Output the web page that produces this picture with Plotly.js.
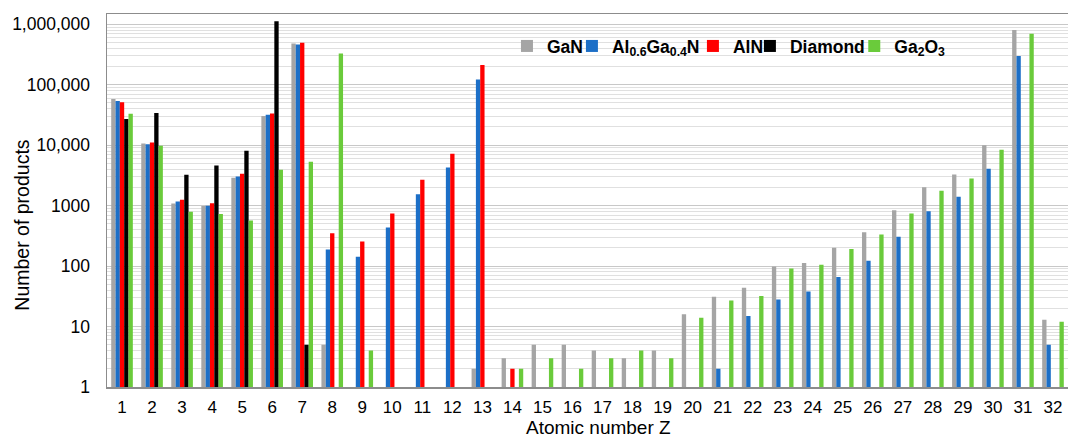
<!DOCTYPE html>
<html>
<head>
<meta charset="utf-8">
<script src="https://cdn.plot.ly/plotly-3.0.1.min.js"></script>
<style>
  html, body { margin: 0; padding: 0; background: #fff; }
  #chart { width: 1068px; height: 441px; }
</style>
</head>
<body>
<div id="chart"></div>
<script>
// Atomic number Z categories
const atomicNumbers = [1,2,3,4,5,6,7,8,9,10,11,12,13,14,15,16,17,18,19,20,21,22,23,24,25,26,27,28,29,30,31,32];

// Number of products per material (null = no bar)
const ganValues = [58000, 10700, 1080, 990, 2890, 30500, 480000, 5, null, null, null, null, 2, 3, 5, 5, 4, 3, 4, 16, 31, 44, 98, 113, 202, 362, 840, 2020, 3280, 10000, 801000, 13];
const alganValues = [54000, 10400, 1170, 1000, 3030, 32000, 464000, 189, 143, 433, 1550, 4290, 122000, null, null, null, null, null, null, null, 2, 15, 28, 38, 66, 123, 307, 808, 1400, 4080, 300000, 5];
const alnValues = [51500, 11100, 1250, 1100, 3370, 33300, 493000, 349, 254, 740, 2680, 7230, 213000, 2, null, null, null, null, null, null, null, null, null, null, null, null, null, null, null, null, null, null];
const diamondValues = [27000, 34000, 3240, 4620, 8100, 1120000, 5, null, null, null, null, null, null, null, null, null, null, null, null, null, null, null, null, null, null, null, null, null, null, null, null, null];
const ga2o3Values = [33000, 9800, 790, 730, 566, 3920, 5330, 329000, 4, null, null, null, null, 2, 3, 2, 3, 4, 3, 14, 27, 32, 91, 105, 192, 332, 740, 1760, 2820, 8400, 697000, 12];

// Y axis tick labels
const yTickVals = [1, 10, 100, 1000, 10000, 100000, 1000000];
const yTickText = ["1", "10", "100", "1000", "10,000", "100,000", "1,000,000"];

// Axis titles
const xTitle = 'Atomic number Z';
const yTitle = 'Number of products';

const seriesNames = ["GaN", "Al<sub>0.6</sub>Ga<sub>0.4</sub>N", "AlN", "Diamond", "Ga<sub>2</sub>O<sub>3</sub>"];
const seriesColors = ["#a5a5a5", "#1c6fc7", "#ff0000", "#000000", "#6acb3b"];
const seriesData = [ganValues, alganValues, alnValues, diamondValues, ga2o3Values];
const legendIds = ["legend", "legend2", "legend3", "legend4", "legend5"];

const traces = seriesData.map((vals, i) => ({
  type: 'bar',
  x: atomicNumbers,
  y: vals,
  name: '<b>' + seriesNames[i] + '</b>',
  marker: { color: seriesColors[i], line: { width: 0 } },
  legend: legendIds[i],
  hoverinfo: 'x+y+name'
}));

// minor gridlines at 2..9 of each decade
const minorVals = [];
for (let d = 0; d < 7; d++) {
  for (let k = 2; k <= 9; k++) minorVals.push(k * Math.pow(10, d));
}

const fontFamily = 'Liberation Sans, Arial, sans-serif';
const legendFont = { family: fontFamily, size: 17.5, color: '#000' };
const legendX = [0.4162, 0.4838, 0.6097, 0.6690, 0.7776];
const mkLegend = (x) => ({
  x: x, y: 0.914, xanchor: 'left', yanchor: 'middle',
  orientation: 'h', bgcolor: 'rgba(0,0,0,0)', borderwidth: 0,
  font: legendFont, itemwidth: 30
});

const layout = {
  width: 1068,
  height: 441,
  margin: { l: 107, r: 0, t: 14, b: 54 },
  paper_bgcolor: '#ffffff',
  plot_bgcolor: '#ffffff',
  font: { family: fontFamily, color: '#000' },
  barmode: 'group',
  bargap: 0.28,
  bargroupgap: 0,
  showlegend: true,
  legend: mkLegend(legendX[0]),
  legend2: mkLegend(legendX[1]),
  legend3: mkLegend(legendX[2]),
  legend4: mkLegend(legendX[3]),
  legend5: mkLegend(legendX[4]),
  xaxis: {
    type: 'linear',
    range: [0.5, 32.5],
    tickmode: 'array',
    tickvals: atomicNumbers,
    ticktext: atomicNumbers.map(String),
    ticks: '',
    ticklabelstandoff: 4,
    tickfont: { size: 17, color: '#000' },
    showgrid: false,
    zeroline: false,
    showline: true,
    linecolor: '#8c8c8c',
    linewidth: 1.5,
    mirror: true
  },
  yaxis: {
    type: 'log',
    range: [0, 6.17],
    tickmode: 'array',
    tickvals: yTickVals,
    ticktext: yTickText,
    ticks: '',
    ticklabelstandoff: 12,
    tickfont: { size: 17.5, color: '#000' },
    showgrid: true,
    gridcolor: '#c8c8c8',
    gridwidth: 1,
    minor: { tickmode: 'array', tickvals: minorVals, showgrid: true, gridcolor: '#e0e0e0', gridwidth: 1, ticks: '' },
    zeroline: false,
    showline: true,
    linecolor: '#8c8c8c',
    linewidth: 1.5
  },
  annotations: [
    {
      text: xTitle, xref: 'paper', yref: 'paper',
      x: 0.511, y: -0.141, xanchor: 'center', yanchor: 'bottom',
      showarrow: false, font: { family: fontFamily, size: 19, color: '#000' }
    },
    {
      text: yTitle, xref: 'paper', yref: 'paper',
      x: -0.0885, y: 0.435, xanchor: 'center', yanchor: 'middle', textangle: -90,
      showarrow: false, font: { family: fontFamily, size: 19.5, color: '#000' }
    }
  ]
};

Plotly.newPlot('chart', traces, layout, { displayModeBar: false, staticPlot: true });
</script>
</body>
</html>
